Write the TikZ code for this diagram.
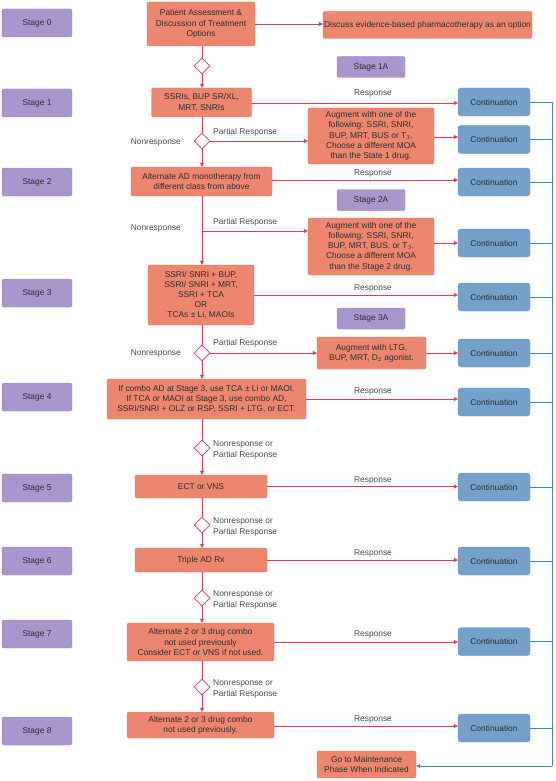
\documentclass[tikz,border=0pt]{standalone}
\usepackage{fontspec}
\setmainfont{Liberation Sans}
\usetikzlibrary{shapes.geometric,arrows.meta}
\definecolor{salmon}{HTML}{EC866E}
\definecolor{salmonedge}{HTML}{DC765E}
\definecolor{lav}{HTML}{A896CC}
\definecolor{lavedge}{HTML}{9886C0}
\definecolor{contblue}{HTML}{75A0CC}
\definecolor{contedge}{HTML}{6690BE}
\definecolor{redline}{HTML}{E23A55}
\definecolor{blueline}{HTML}{3F86BA}
\definecolor{txt}{HTML}{2E2E2E}
\definecolor{lbltxt}{HTML}{4A4A4A}
\begin{document}
\begin{tikzpicture}[x=1pt,y=-1pt,
  font=\fontsize{8.4}{10.2}\selectfont,
  wh/.style 2 args={minimum width=#1pt, minimum height=#2pt},
  base/.style={draw, line width=0.4pt, inner sep=1pt, align=center, text=txt},
  stagebox/.style={base, fill=lav, draw=lavedge, rounded corners=2pt, wh={70}{28}},
  substage/.style={base, fill=lav, draw=lavedge, rounded corners=2pt, wh={68}{21}},
  treat/.style={base, fill=salmon, draw=salmonedge, rounded corners=1.5pt},
  cont/.style={base, fill=contblue, draw=contedge, rounded corners=3pt, wh={72}{28}},
  decision/.style={diamond, draw=redline, fill=white, line width=0.8pt, inner sep=0pt, minimum width=16pt, minimum height=16pt},
  rline/.style={draw=redline, line width=0.7pt},
  rarrow/.style={rline, -{Triangle[length=4pt,width=4pt]}},
  bline/.style={draw=blueline, line width=0.7pt},
  lbl/.style={text=lbltxt, inner sep=0pt, align=left}
]
\useasboundingbox (0,0) rectangle (555,781);

% stage labels
\node[stagebox] (st0) at (37,23) {Stage 0};
\node[stagebox] (st1) at (37,103) {Stage 1};
\node[stagebox] (st2) at (37,182) {Stage 2};
\node[stagebox] (st3) at (37,293) {Stage 3};
\node[stagebox] (st4) at (37,397) {Stage 4};
\node[stagebox] (st5) at (37,488) {Stage 5};
\node[stagebox] (st6) at (37,561) {Stage 6};
\node[stagebox] (st7) at (37,634) {Stage 7};
\node[stagebox] (st8) at (37,731) {Stage 8};

\node[substage] (s1a) at (371,67) {Stage 1A};
\node[substage] (s2a) at (371,200) {Stage 2A};
\node[substage] (s3a) at (371,318.5) {Stage 3A};

% main column
\node[treat, wh={108}{44}] (b0) at (201,24) {Patient Assessment \&\\Discussion of Treatment\\Options};
\node[treat, wh={209}{27}] (disc) at (427.5,25) {Discuss evidence-based pharmacotherapy as an option};
\node[decision] (d1) at (202,66) {};
\node[treat, wh={100}{29}] (b1) at (201.5,102.5) {SSRIs, BUP SR/XL,\\MRT, SNRIs};
\node[decision] (d2) at (202,141) {};
\node[treat, wh={126}{56}] (aug1) at (371,136) {Augment with one of the\\following: SSRI, SNRI,\\BUP, MRT, BUS or T$_3$.\\Choose a different MOA\\than the State 1 drug.};
\node[treat, wh={141}{29}] (b2) at (201.5,181.5) {Alternate AD monotherapy from\\different class from above};
\coordinate (j2) at (202,231);
\node[treat, wh={126}{57}] (aug2) at (371,246.5) {Augment with one of the\\following: SSRI, SNRI,\\BUP, MRT, BUS, or T$_3$.\\Choose a different MOA\\than the Stage 2 drug.};
\node[treat, wh={106}{60}] (b3) at (201,295) {SSRI/ SNRI + BUP,\\SSRI/ SNRI + MRT,\\SSRI + TCA\\OR\\TCAs ± Li, MAOIs};
\node[decision] (d3) at (202,353) {};
\node[treat, wh={109}{32}] (aug3) at (371.5,353) {Augment with LTG,\\BUP, MRT, D$_2$ agonist.};
\node[treat, wh={199}{40}] (b4) at (206.5,399) {If combo AD at Stage 3, use TCA ± Li or MAOI.\\If TCA or MAOI at Stage 3, use combo AD,\\SSRI/SNRI + OLZ or RSP, SSRI + LTG, or ECT.};
\node[decision] (d4) at (202,448) {};
\node[treat, wh={132}{23}] (b5) at (201,486.5) {ECT or VNS};
\node[decision] (d5) at (202,525) {};
\node[treat, wh={132}{24}] (b6) at (201,560) {Triple AD Rx};
\node[decision] (d6) at (202,598) {};
\node[treat, wh={147}{38}] (b7) at (200.5,642) {Alternate 2 or 3 drug combo\\not used previously\\Consider ECT or VNS if not used.};
\node[decision] (d7) at (202,687) {};
\node[treat, wh={147}{26}] (b8) at (200.5,725) {Alternate 2 or 3 drug combo\\not used previously.};
\node[treat, wh={99}{27}] (maint) at (366.5,764.5) {Go to Maintenance\\Phase When Indicated};

% continuation boxes
\node[cont] (c1) at (494,102) {Continuation};
\node[cont] (c2) at (494,139.5) {Continuation};
\node[cont] (c3) at (494,182) {Continuation};
\node[cont] (c4) at (494,243) {Continuation};
\node[cont] (c5) at (494,297) {Continuation};
\node[cont] (c6) at (494,353) {Continuation};
\node[cont] (c7) at (494,402) {Continuation};
\node[cont] (c8) at (494,487) {Continuation};
\node[cont] (c9) at (494,561) {Continuation};
\node[cont] (c10) at (494,641.5) {Continuation};
\node[cont] (c11) at (494,728) {Continuation};

% vertical flow
\draw[rarrow] (b0) -- (b0 -| disc.west);
\draw[rline] (d1.north |- b0.south) -- (d1.north);
\draw[rarrow] (d1.south) -- (d1.south |- b1.north);
\draw[rline] (d2.north |- b1.south) -- (d2.north);
\draw[rarrow] (d2.south) -- (d2.south |- b2.north);
\draw[rline] (j2 |- b2.south) -- (j2);
\draw[rarrow] (j2) -- (j2 |- b3.north);
\draw[rline] (d3.north |- b3.south) -- (d3.north);
\draw[rarrow] (d3.south) -- (d3.south |- b4.north);
\draw[rline] (d4.north |- b4.south) -- (d4.north);
\draw[rarrow] (d4.south) -- (d4.south |- b5.north);
\draw[rline] (d5.north |- b5.south) -- (d5.north);
\draw[rarrow] (d5.south) -- (d5.south |- b6.north);
\draw[rline] (d6.north |- b6.south) -- (d6.north);
\draw[rarrow] (d6.south) -- (d6.south |- b7.north);
\draw[rline] (d7.north |- b7.south) -- (d7.north);
\draw[rarrow] (d7.south) -- (d7.south |- b8.north);

% partial response branches
\draw[rarrow] (d2.east) -- (d2.east -| aug1.west);
\draw[rarrow] (j2) -- (j2 -| aug2.west);
\draw[rarrow] (d3.east) -- (d3.east -| aug3.west);
\draw[rarrow] (aug1.east |- 0,137) -- (c2.west |- 0,137);
\draw[rarrow] (c4.west -| aug2.east) -- (c4.west);
\draw[rarrow] (aug3.east) -- (aug3.east -| c6.west);

% response arrows
\draw[rarrow] (b1.east |- 0,103) -- (c1.west |- 0,103);
\draw[rarrow] (b2.east |- 0,180) -- (c3.west |- 0,180);
\draw[rarrow] (b3.east) -- (b3.east -| c5.west);
\draw[rarrow] (b4.east) -- (b4.east -| c7.west);
\draw[rarrow] (b5.east) -- (b5.east -| c8.west);
\draw[rarrow] (b6.east) -- (b6.east -| c9.west);
\draw[rarrow] (b7.east) -- (b7.east -| c10.west);
\draw[rarrow] (b8.east |- 0,726) -- (c11.west |- 0,726);

% labels
\node[lbl] at (373,93) {Response};
\node[lbl] at (373,173) {Response};
\node[lbl] at (373,288) {Response};
\node[lbl] at (373,391) {Response};
\node[lbl] at (373,480) {Response};
\node[lbl] at (373,553) {Response};
\node[lbl] at (373,634) {Response};
\node[lbl] at (373,719) {Response};
\node[lbl, anchor=west] at (213,132) {Partial Response};
\node[lbl, anchor=west] at (213,222) {Partial Response};
\node[lbl, anchor=west] at (213,343) {Partial Response};
\node[lbl, anchor=east] at (181,142) {Nonresponse};
\node[lbl, anchor=east] at (181,228) {Nonresponse};
\node[lbl, anchor=east] at (181,353) {Nonresponse};
\node[lbl, anchor=west] at (213,450) {Nonresponse or\\Partial Response};
\node[lbl, anchor=west] at (213,527) {Nonresponse or\\Partial Response};
\node[lbl, anchor=west] at (213,600) {Nonresponse or\\Partial Response};
\node[lbl, anchor=west] at (213,689) {Nonresponse or\\Partial Response};

% blue return trunk
\coordinate (ttop) at (552,102);
\coordinate (tbot) at (552,766);
\foreach \c in {c1,c2,c3,c4,c5,c6,c7,c8,c9,c10,c11}
  \draw[bline] (\c.east) -- (\c.east -| ttop);
\draw[bline] (ttop) -- (tbot);
\draw[bline, -{Triangle[length=4pt,width=4pt]}] (tbot) -- (tbot -| maint.east);
\end{tikzpicture}
\end{document}
